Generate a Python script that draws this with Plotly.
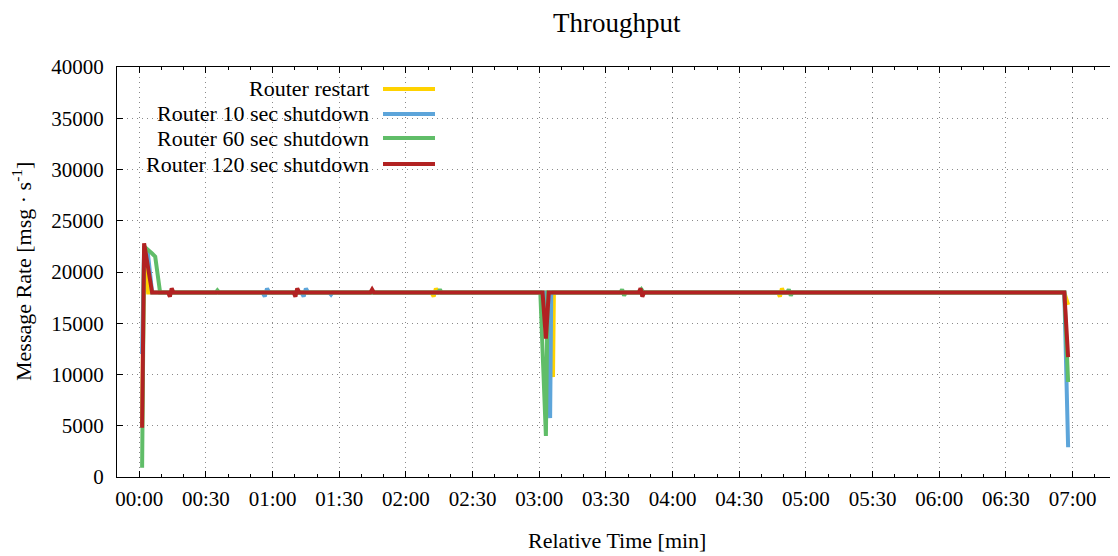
import plotly.graph_objects as go

# ---------------- data (time in seconds, rate in msg/s) ----------------
series_names = ["Router restart", "Router 10 sec shutdown",
                "Router 60 sec shutdown", "Router 120 sec shutdown"]
series_colors = ["#FFD200", "#5DA5DA", "#60BD68", "#B22222"]

restart_t = [1.3, 2.2, 4.0, 131.5, 132.5, 133.5, 134.5, 183.8, 186.2, 186.6,
             287.5, 288.3, 289.2, 290.0, 416.3, 418.0]
restart_v = [5000, 22200, 18000, 18000, 17600, 18400, 18000, 18000, 9750, 18000,
             18000, 17600, 18400, 18000, 18000, 16800]

sd10_t = [1.3, 2.2, 3.8, 5.8, 55.5, 56.5, 57.5, 58.5, 73.0, 74.0, 75.0, 76.0,
          85.5, 86.3, 87.0, 183.0, 184.9, 185.4, 416.3, 418.0]
sd10_v = [12000, 22400, 22000, 18000, 18000, 17600, 18400, 18000, 18000, 17600, 18400, 18000,
          18000, 17800, 18000, 18000, 5750, 18000, 18000, 2900]

sd60_t = [1.3, 2.2, 5.8, 7.2, 9.4, 34.5, 35.2, 36.0, 134.5, 135.3, 136.0,
          180.5, 183.0, 183.8, 216.5, 217.3, 218.2, 219.0, 225.0, 226.0, 227.0,
          291.5, 292.3, 293.2, 294.0, 416.3, 418.0]
sd60_v = [900, 22500, 21800, 21500, 18000, 18000, 18200, 18000, 18000, 18300, 18000,
          18000, 4000, 18000, 18000, 18300, 17700, 18000, 18000, 18300, 18000,
          18000, 18300, 17700, 18000, 18000, 9270]

sd120_t = [1.3, 2.2, 5.8, 13.0, 13.8, 14.6, 15.4, 69.5, 70.3, 71.1, 72.0,
           104.0, 104.8, 105.6, 181.5, 183.0, 184.3, 224.8, 225.6, 226.4, 227.2,
           416.3, 418.0]
sd120_v = [4800, 22800, 18000, 18000, 17600, 18400, 18000, 18000, 17600, 18400, 18000,
           18000, 18300, 18000, 18000, 13500, 18000, 18000, 18400, 17600, 18000,
           18000, 11700]

x_tick_vals = list(range(0, 421, 30))
x_tick_text = ["00:00", "00:30", "01:00", "01:30", "02:00", "02:30", "03:00", "03:30",
               "04:00", "04:30", "05:00", "05:30", "06:00", "06:30", "07:00"]
y_tick_vals = list(range(0, 40001, 5000))
y_tick_text = [str(v) for v in y_tick_vals]

FONT = "Liberation Serif"

fig = go.Figure()
for name, color, t, v in zip(series_names, series_colors,
                             [restart_t, sd10_t, sd60_t, sd120_t],
                             [restart_v, sd10_v, sd60_v, sd120_v]):
    fig.add_trace(go.Scatter(x=t, y=v, mode="lines", name=name,
                             line=dict(color=color, width=4), showlegend=False))

axis_common = dict(showline=True, linecolor="black", linewidth=1, mirror="ticks",
                   ticks="inside", tickcolor="black", ticklen=6, tickwidth=1,
                   showgrid=True, gridcolor="#8a8a8a", gridwidth=1, griddash="1px,4px",
                   zeroline=False, automargin=False,
                   tickfont=dict(family=FONT, size=21, color="black"))

fig.update_xaxes(range=[-10, 440], tickvals=x_tick_vals, ticktext=x_tick_text,
                 ticklabelstandoff=3,
                 minor=dict(dtick=10, tick0=0, ticks="inside", ticklen=3,
                            tickcolor="black", showgrid=False),
                 **axis_common)
fig.update_yaxes(range=[0, 40000], tickvals=y_tick_vals, ticktext=y_tick_text,
                 ticklabelstandoff=8, **axis_common)

# legend (text right-aligned, sample line on the right, gnuplot style)
leg_rows_y = [0.9464, 0.8854, 0.8268, 0.7634]
for name, color, yy in zip(series_names, series_colors, leg_rows_y):
    fig.add_annotation(xref="paper", yref="paper", x=0.254, y=yy, text=name,
                       showarrow=False, xanchor="right", yanchor="middle",
                       font=dict(family=FONT, size=22, color="black"))
    fig.add_shape(type="line", xref="paper", yref="paper", x0=0.266, x1=0.318,
                  y0=yy, y1=yy, line=dict(color=color, width=4))

fig.add_annotation(xref="paper", yref="paper", x=0.5, y=-0.156,
                   text="Relative Time [min]", showarrow=False,
                   xanchor="center", yanchor="middle",
                   font=dict(family=FONT, size=22, color="black"))
fig.add_annotation(xref="paper", yref="paper", x=-0.095, y=0.5,
                   text="Message Rate [msg · s<sup>-1</sup>]", showarrow=False,
                   textangle=-90, xanchor="center", yanchor="middle",
                   font=dict(family=FONT, size=22, color="black"))
fig.add_annotation(xref="paper", yref="paper", x=0.5, y=1.108,
                   text="Throughput", showarrow=False,
                   xanchor="center", yanchor="middle",
                   font=dict(family=FONT, size=27, color="black"))

# the page places the figure 8px in from the top-left corner, so the figure is
# sized 8px smaller to fill the 1118x556 window exactly
fig.update_layout(
    width=1110, height=548,
    margin=dict(l=109, r=1, t=59, b=79, autoexpand=False),
    paper_bgcolor="white", plot_bgcolor="white",
    showlegend=False,
)

fig.write_html("out.html")
